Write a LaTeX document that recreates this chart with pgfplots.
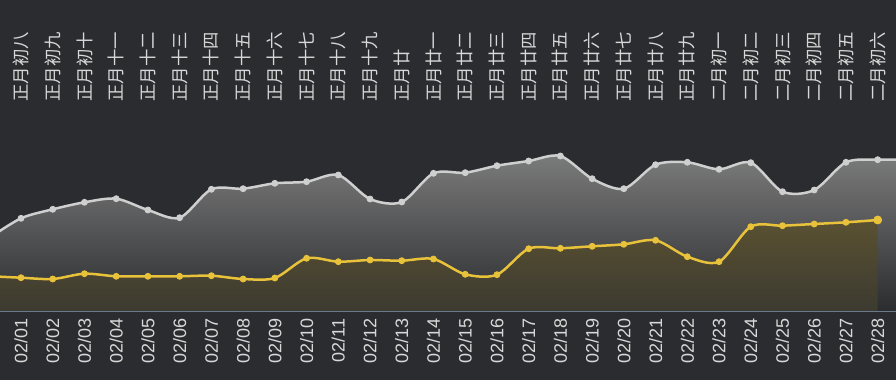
\documentclass[border=0pt]{standalone}
\usepackage{fontspec}
\setmainfont{Liberation Sans}
\newfontfamily\cjk{Noto Sans CJK SC}
\usepackage{pgfplots}
\usepackage{pgfplotstable}
\pgfplotsset{compat=1.18}
\definecolor{bg}{HTML}{2B2C2F}
\definecolor{grayline}{HTML}{CFCFCF}
\definecolor{yel}{HTML}{E8C23A}
\definecolor{axisc}{HTML}{6B7A8A}
\definecolor{lbl}{HTML}{D8D8D8}

\pgfplotstableread{
x gray yellow
0 73 34.8
1 92.7 33.3
2 101.7 32
3 108.7 37.3
4 112.3 34.7
5 101 34.7
6 93.3 34.7
7 121.7 35.3
8 122.3 32
9 127.7 33
10 129.3 52.7
11 136 49.3
12 112 51
13 109 50.3
14 137.7 52
15 138.3 36.7
16 145.3 36.3
17 150 62.3
18 155 62.7
19 132.3 64.7
20 122.3 66.7
21 146.3 70.7
22 148.7 54.3
23 141.7 49.3
24 148.3 84.3
25 119.3 85.3
26 121 87
27 148.7 88.7
28 151.3 91
29 151.3 91
}\data

\pgfplotstableread{
x y lab
1 209 正月初八
2 209 正月初九
3 209 正月初十
4 209 正月十一
5 209 正月十二
6 209 正月十三
7 209 正月十四
8 209 正月十五
9 209 正月十六
10 209 正月十七
11 209 正月十八
12 209 正月十九
13 209 正月廿
14 209 正月廿一
15 209 正月廿二
16 209 正月廿三
17 209 正月廿四
18 209 正月廿五
19 209 正月廿六
20 209 正月廿七
21 209 正月廿八
22 209 正月廿九
23 209 二月初一
24 209 二月初二
25 209 二月初三
26 209 二月初四
27 209 二月初五
28 209 二月初六
}\lunar

\begin{document}
\begin{tikzpicture}
\fill[bg] (0,0) rectangle (448pt,190pt);
\useasboundingbox (0,0) rectangle (448pt,190pt);
\begin{axis}[
  at={(0,34.5pt)}, anchor=south west,
  scale only axis, width=448pt, height=155.5pt,
  xmin=0.338, xmax=28.577, ymin=0, ymax=311,
  hide y axis,
  axis x line=bottom,
  x axis line style={-, draw=axisc, line width=0.9pt},
  xtick={1,...,28},
  xticklabels={02/01,02/02,02/03,02/04,02/05,02/06,02/07,02/08,02/09,02/10,02/11,02/12,02/13,02/14,02/15,02/16,02/17,02/18,02/19,02/20,02/21,02/22,02/23,02/24,02/25,02/26,02/27,02/28},
  major tick length=0pt,
  xticklabel style={rotate=90, anchor=east, inner sep=0pt, text=lbl, font=\fontsize{9}{9}\selectfont},
  xticklabel shift=3.5pt,
]
% gray area
\addplot[draw=none, smooth, top color=black!50!white!95!bg, middle color=bg!85!white, bottom color=bg]
  table[x=x, y=gray] {\data} \closedcycle;
% yellow area
\addplot[draw=none, smooth, top color=yel!25!bg, bottom color=yel!9!bg, restrict x to domain=0:28]
  table[x=x, y=yellow] {\data} \closedcycle;
% lines
\addplot[grayline, line width=1.25pt, smooth, mark=none] table[x=x, y=gray] {\data};
\addplot[yel, line width=1.25pt, smooth, mark=none, restrict x to domain=0:28] table[x=x, y=yellow] {\data};
% marks
\addplot[only marks, mark=*, mark size=1.5pt, grayline, restrict x to domain=1:28] table[x=x, y=gray] {\data};
\addplot[only marks, mark=*, mark size=1.5pt, yel, restrict x to domain=1:27] table[x=x, y=yellow] {\data};
\addplot[only marks, mark=*, mark size=2pt, yel, restrict x to domain=28:28] table[x=x, y=yellow] {\data};
% lunar labels
\addplot[draw=none, mark=none, nodes near coords, point meta=explicit symbolic,
  every node near coord/.append style={rotate=90, anchor=west, inner sep=0pt, text=lbl, font=\cjk\fontsize{8.7}{8.7}\selectfont}]
  table[x=x, y=y, meta=lab] {\lunar};
\end{axis}
\end{tikzpicture}
\end{document}
